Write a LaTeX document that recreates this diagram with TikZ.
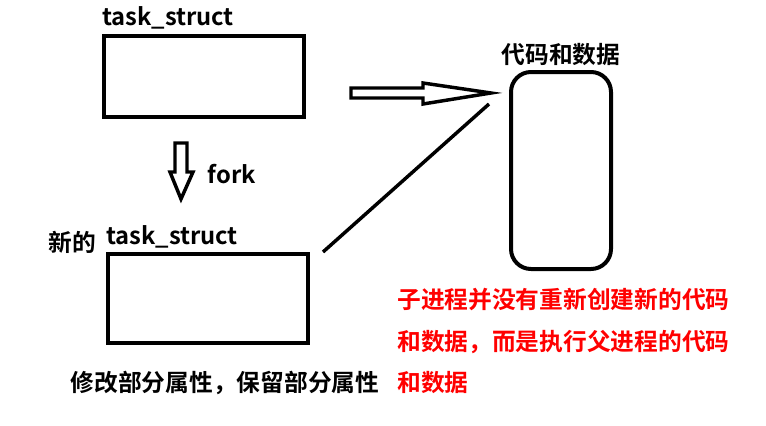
\documentclass[tikz,border=0pt]{standalone}
\usepackage{fontspec}
\setmainfont{Noto Sans CJK SC}[BoldFont={* Bold}]
\begin{document}
\begin{tikzpicture}[x=0.75pt,y=-0.75pt,
  box/.style={draw=black,line width=3pt},
  lbl/.style={font=\fontsize{17.8}{21}\selectfont\bfseries,inner sep=0pt},
  red text/.style={lbl,text=red,align=left}]
\useasboundingbox (0,0) rectangle (766,425);
% boxes
\draw[box] (104,36) rectangle (304,117);
\draw[box] (108,254) rectangle (308,343);
\draw[box,rounded corners=15pt] (511,72) rectangle (611,269);
\node (box1) at (204,76) {};
\node (box2) at (208,298) {};
\node (code) at (561,170) {};
% labels
\node[lbl] (t1) at (168,18) {task\_struct};
\node[lbl] (xin) at (72,242) {新的};
\node[lbl] (t2) at (172,237) {task\_struct};
\node[lbl] (fork) at (232,174) {fork};
\node[lbl] (cd) at (561,55) {代码和数据};
\node[lbl] (mod) at (225,383) {修改部分属性，保留部分属性};
\node[red text,anchor=west] (r1) at (397,299) {子进程并没有重新创建新的代码};
\node[red text,anchor=west] (r2) at (397,342) {和数据，而是执行父进程的代码};
\node[red text,anchor=west] (r3) at (397,383) {和数据};
% hollow right arrow
\draw[line width=2.6pt,line join=miter]
  (351,88) -- (423,88) -- (423,83) -- (491,93) -- (423,104) -- (423,98) -- (351,98) -- cycle;
% hollow down arrow
\draw[line width=2.6pt,line join=miter]
  (175,143) -- (187,143) -- (187,172) -- (193,172) -- (181,199) -- (170,172) -- (175,172) -- cycle;
% diagonal line
\coordinate (d1) at (323,252);
\coordinate (d2) at (489,104);
\draw[line width=2.6pt] (d1) -- (d2);
\end{tikzpicture}
\end{document}
